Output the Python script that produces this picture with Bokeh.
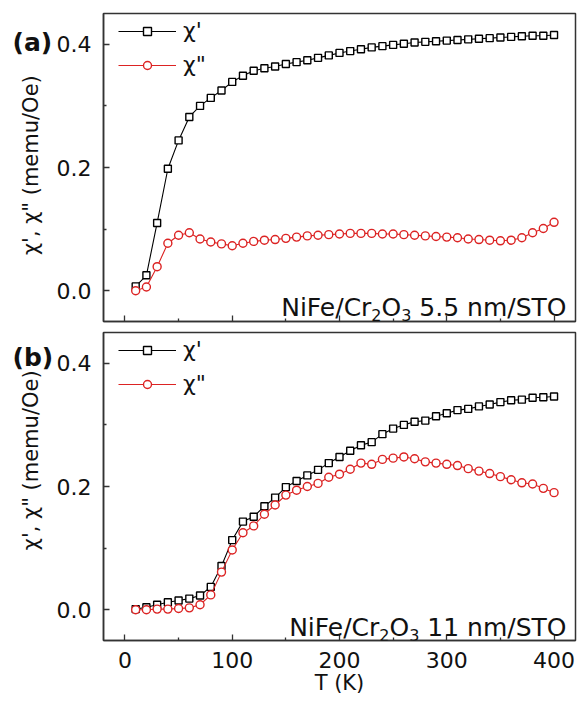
import math
from bokeh.plotting import figure
from bokeh.models import Label, Legend, LegendItem, FixedTicker, Range1d, PrintfTickFormatter
from bokeh.layouts import column, row
from bokeh.core.properties import value
from bokeh.embed import file_html
from bokeh.resources import INLINE

# ---------------- data ----------------
T = [10, 20, 30, 40, 50, 60, 70, 80, 90, 100,
     110, 120, 130, 140, 150, 160, 170, 180, 190, 200,
     210, 220, 230, 240, 250, 260, 270, 280, 290, 300,
     310, 320, 330, 340, 350, 360, 370, 380, 390, 400]

# panel (a): NiFe/Cr2O3 5.5 nm/STO
chi1_a = [0.007, 0.025, 0.110, 0.198, 0.244, 0.282, 0.300, 0.313, 0.325, 0.339,
          0.349, 0.357, 0.361, 0.364, 0.368, 0.371, 0.374, 0.378, 0.382, 0.386,
          0.389, 0.392, 0.395, 0.397, 0.399, 0.401, 0.403, 0.404, 0.405, 0.406,
          0.407, 0.408, 0.409, 0.410, 0.411, 0.412, 0.413, 0.414, 0.414, 0.415]
chi2_a = [0.000, 0.006, 0.039, 0.077, 0.090, 0.094, 0.084, 0.079, 0.076, 0.073,
          0.077, 0.080, 0.082, 0.083, 0.085, 0.087, 0.089, 0.090, 0.091, 0.092,
          0.093, 0.093, 0.093, 0.092, 0.092, 0.091, 0.090, 0.089, 0.088, 0.087,
          0.086, 0.084, 0.083, 0.082, 0.081, 0.082, 0.086, 0.094, 0.101, 0.111]

# panel (b): NiFe/Cr2O3 11 nm/STO
chi1_b = [0.001, 0.004, 0.008, 0.012, 0.015, 0.018, 0.023, 0.037, 0.071, 0.113,
          0.143, 0.151, 0.168, 0.182, 0.199, 0.209, 0.218, 0.227, 0.238, 0.248,
          0.258, 0.267, 0.272, 0.285, 0.294, 0.300, 0.305, 0.307, 0.314, 0.319,
          0.324, 0.326, 0.330, 0.333, 0.337, 0.340, 0.341, 0.344, 0.345, 0.346]
chi2_b = [0.000, 0.000, 0.001, 0.001, 0.002, 0.003, 0.008, 0.024, 0.061, 0.097,
          0.125, 0.136, 0.155, 0.170, 0.186, 0.194, 0.200, 0.205, 0.215, 0.220,
          0.228, 0.238, 0.236, 0.244, 0.246, 0.248, 0.245, 0.240, 0.238, 0.236,
          0.234, 0.229, 0.225, 0.221, 0.216, 0.211, 0.206, 0.204, 0.197, 0.190]

x_major = [0, 100, 200, 300, 400]
x_minor = [50, 150, 250, 350]
y_major = [0.0, 0.2, 0.4]
y_minor = [0.1, 0.3]

legend_labels = ["χ'", 'χ"']
y_title = 'χ\', χ" (memu/Oe)'
x_title = "T (K)"

FONT = "DejaVu Sans"
BLACK = "#000000"
RED = "#dc2323"
FRAME = "#333333"
TEXT = "#111111"

# DejaVu Sans advance widths (em)
WIDTHS = {"N": .748, "i": .278, "F": .575, "e": .615, "/": .337, "C": .698,
          "r": .411, "O": .787, " ": .318, "5": .636, ".": .318, "n": .634,
          "m": .974, "S": .635, "T": .611, "1": .636, "2": .636, "3": .636}

GUTTER = 53


def tw(s, size):
    return sum(WIDTHS[c] for c in s) * size


def make_fig(height, top, bottom, show_x):
    p = figure(width=578 - GUTTER, height=height, x_range=Range1d(-20, 420),
               y_range=Range1d(-0.05, 0.45), output_backend="svg",
               toolbar_location=None, min_border_left=102 - GUTTER,
               min_border_right=3, min_border_top=top, min_border_bottom=bottom)
    p.grid.visible = False
    p.outline_line_color = FRAME
    p.outline_line_width = 1.5
    p.outline_line_alpha = 1.0
    for ax in (p.xaxis[0], p.yaxis[0]):
        ax.axis_line_color = FRAME
        ax.axis_line_width = 1.5
        ax.major_tick_in = 6
        ax.major_tick_out = 0
        ax.minor_tick_in = 3
        ax.minor_tick_out = 0
        ax.major_tick_line_color = FRAME
        ax.minor_tick_line_color = FRAME
        ax.major_tick_line_width = 1.3
        ax.minor_tick_line_width = 1.3
        ax.major_label_text_font = FONT
        ax.major_label_text_color = TEXT
        ax.axis_label_text_font = FONT
        ax.axis_label_text_font_style = "normal"
        ax.axis_label_text_color = TEXT
    p.xaxis.ticker = FixedTicker(ticks=x_major, minor_ticks=x_minor)
    p.yaxis.ticker = FixedTicker(ticks=y_major, minor_ticks=y_minor)
    p.yaxis.formatter = PrintfTickFormatter(format="%.1f")
    p.yaxis.major_label_text_font_size = "22px"
    p.yaxis.major_label_standoff = 12
    if show_x:
        p.xaxis.major_label_text_font_size = "22px"
        p.xaxis.major_label_standoff = 11
        p.xaxis.axis_label = x_title
        p.xaxis.axis_label_text_font_size = "21px"
        p.xaxis.axis_label_standoff = 0
    else:
        p.xaxis.major_label_text_font_size = "2px"
        p.xaxis.major_label_text_color = None
        p.xaxis.major_label_standoff = 0
    return p


def make_gutter(height, letter, letter_mid, title_center):
    g = figure(width=GUTTER, height=height, x_range=Range1d(0, GUTTER),
               y_range=Range1d(0, height), output_backend="svg",
               toolbar_location=None, title_location=None, min_border=0,
               x_axis_location=None, y_axis_location=None)
    g.grid.visible = False
    g.outline_line_color = None
    g.text(x=[12], y=[height - letter_mid], text=[letter],
           text_font=value(FONT), text_font_style="bold",
           text_font_size="25px", text_baseline="middle", text_align="left",
           text_color=TEXT)
    g.text(x=[30], y=[height - title_center], text=[y_title],
           angle=math.pi / 2, text_font=value(FONT), text_font_size="21px",
           text_baseline="middle", text_align="center", text_color=TEXT)
    return g


def add_series(p, y1, y2, frame_h):
    l1 = p.line(T, y1, line_color=BLACK, line_width=1.1)
    m1 = p.scatter(T, y1, marker="square", size=7, line_color=BLACK,
                   fill_color="white", line_width=1.4)
    l2 = p.line(T, y2, line_color=RED, line_width=1.1)
    m2 = p.scatter(T, y2, marker="circle", size=8, line_color=RED,
                   fill_color="white", line_width=1.4)
    leg = Legend(items=[LegendItem(label=legend_labels[0], renderers=[l1, m1]),
                        LegendItem(label=legend_labels[1], renderers=[l2, m2])],
                 location=(15, frame_h - 64), border_line_color=None,
                 background_fill_alpha=0, label_text_font=FONT,
                 label_text_font_size="22px", label_text_color=TEXT,
                 glyph_width=58, glyph_height=20, label_height=20,
                 label_standoff=7, spacing=9, padding=0, margin=0)
    p.add_layout(leg)


def add_sample(p, thickness, yb):
    F, f = 25, 16
    xr = 463.0
    tail = thickness + " nm/STO"
    parts = [("NiFe/Cr", F, 0), ("2", f, -7), ("O", F, 0), ("3", f, -7)]
    p.add_layout(Label(x=xr, y=yb, x_units="screen", y_units="screen",
                       text=tail, text_font=FONT, text_font_size=f"{F}px",
                       text_align="right", text_baseline="alphabetic",
                       text_color=TEXT))
    x = xr - tw(tail, F) - tw(" ", F)
    for s, size, dy in reversed(parts):
        p.add_layout(Label(x=x, y=yb + dy, x_units="screen", y_units="screen",
                           text=s, text_font=FONT, text_font_size=f"{size}px",
                           text_align="right", text_baseline="alphabetic",
                           text_color=TEXT))
        x -= tw(s, size)


HA, HB = 325, 376

pa = make_fig(HA, 13, 4, False)
add_series(pa, chi1_a, chi2_a, 308)
add_sample(pa, "5.5", 14)
ga = make_gutter(HA, "(a)", 31, 160)

pb = make_fig(HB, 7, 61, True)
add_series(pb, chi1_b, chi2_b, 308)
add_sample(pb, "11", 13)
gb = make_gutter(HB, "(b)", 30, 156)

layout = column(row(ga, pa, spacing=0), row(gb, pb, spacing=0), spacing=0)
open("out.html", "w").write(file_html(layout, INLINE))
